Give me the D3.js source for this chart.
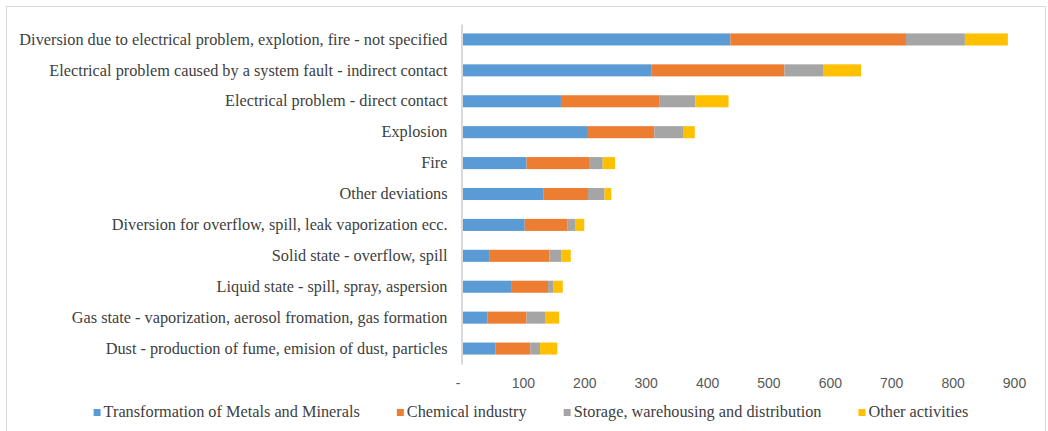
<!DOCTYPE html>
<html>
<head>
<meta charset="utf-8">
<script src="https://cdn.jsdelivr.net/npm/d3@7"></script>
<style>
  html, body { margin: 0; padding: 0; background: #fff; }
  svg { display: block; }
  .serif { font-family: "Liberation Serif", "Times New Roman", serif; }
  .sans { font-family: "Liberation Sans", Arial, sans-serif; }
</style>
</head>
<body>
<svg id="chart" width="1048" height="431"></svg>
<script>
// Accident deviation categories (top to bottom)
const categories = [
  "Diversion due to electrical problem, explotion, fire - not specified",
  "Electrical problem caused by a system fault - indirect contact",
  "Electrical problem - direct contact",
  "Explosion",
  "Fire",
  "Other deviations",
  "Diversion for overflow, spill, leak vaporization ecc.",
  "Solid state - overflow, spill",
  "Liquid state - spill, spray, aspersion",
  "Gas state - vaporization, aerosol fromation, gas formation",
  "Dust - production of fume, emision of dust, particles"
];

const seriesNames = [
  "Transformation of Metals and Minerals",
  "Chemical industry",
  "Storage, warehousing and distribution",
  "Other activities"
];

// Counts per sector, one array per series, in category order
const metalsMinerals = [438, 309, 162, 206, 106, 134, 103, 45, 82, 42, 55];
const chemical       = [286, 217, 161, 108, 103, 72, 70, 98, 59, 64, 57];
const storage        = [96, 64, 58, 48, 21, 27, 12, 20, 9, 30, 16];
const other          = [70, 61, 54, 18, 20, 11, 15, 15, 15, 23, 28];

const tickValues = [0, 100, 200, 300, 400, 500, 600, 700, 800, 900];

const colors = ["#5B9BD5", "#ED7D31", "#A5A5A5", "#FFC000"];

const svg = d3.select("#chart");

// outer chart frame
svg.append("rect")
  .attr("x", 6.5).attr("y", 6.5)
  .attr("width", 1039).attr("height", 440)
  .attr("fill", "none").attr("stroke", "#d9d9d9").attr("stroke-width", 1);

const rows = categories.map((c, i) => ({
  cat: c,
  [seriesNames[0]]: metalsMinerals[i],
  [seriesNames[1]]: chemical[i],
  [seriesNames[2]]: storage[i],
  [seriesNames[3]]: other[i]
}));

const stacked = d3.stack().keys(seriesNames)(rows);

const x = d3.scaleLinear().domain([0, 900]).range([461.5, 1014]);
const y = d3.scaleBand().domain(categories).range([24, 364]).paddingInner(0.61).paddingOuter(0.305);

const color = d3.scaleOrdinal().domain(seriesNames).range(colors);

// bars
svg.append("g")
  .selectAll("g")
  .data(stacked)
  .join("g")
    .attr("fill", d => color(d.key))
  .selectAll("rect")
  .data(d => d)
  .join("rect")
    .attr("x", d => x(d[0]))
    .attr("y", d => y(d.data.cat))
    .attr("width", d => x(d[1]) - x(d[0]))
    .attr("height", y.bandwidth());

// category axis
const yAxis = svg.append("g")
  .attr("transform", `translate(${x(0)},0)`)
  .call(d3.axisLeft(y).tickSize(0).tickPadding(14));
yAxis.attr("font-family", null).attr("font-size", null);
yAxis.select(".domain").attr("stroke", "#d9d9d9").attr("stroke-width", 2);
yAxis.selectAll("text")
  .attr("class", "serif")
  .style("font-size", "16.3px")
  .attr("fill", "#404040");

// value axis labels (no line)
const xAxis = svg.append("g")
  .attr("transform", "translate(0,372)")
  .call(d3.axisBottom(x).tickValues(tickValues).tickSize(0).tickPadding(6)
    .tickFormat(d => d === 0 ? "-" : d3.format("d")(d)));
xAxis.attr("font-family", null).attr("font-size", null);
xAxis.select(".domain").remove();
xAxis.selectAll("text")
  .attr("class", "sans")
  .style("font-size", "14px")
  .attr("fill", "#595959");
xAxis.selectAll(".tick").filter(d => d === 0).select("text").attr("dx", -4);

// legend
const legend = svg.append("g");
const items = legend.selectAll("g").data(seriesNames).join("g");
items.append("rect")
  .attr("width", 7).attr("height", 7)
  .attr("y", -7)
  .attr("fill", d => color(d));
items.append("text")
  .attr("class", "serif")
  .attr("x", 10)
  .attr("y", 1)
  .style("font-size", "16.3px")
  .attr("fill", "#404040")
  .text(d => d);

let cursor = 0;
const offsets = [];
items.each(function () {
  const w = d3.select(this).select("text").node().getComputedTextLength();
  offsets.push(cursor);
  cursor += 10 + w + 37;
});
const total = cursor - 37;
const startX = 531 - total / 2;
items.attr("transform", (d, i) => `translate(${startX + offsets[i]},416)`);
</script>
</body>
</html>
